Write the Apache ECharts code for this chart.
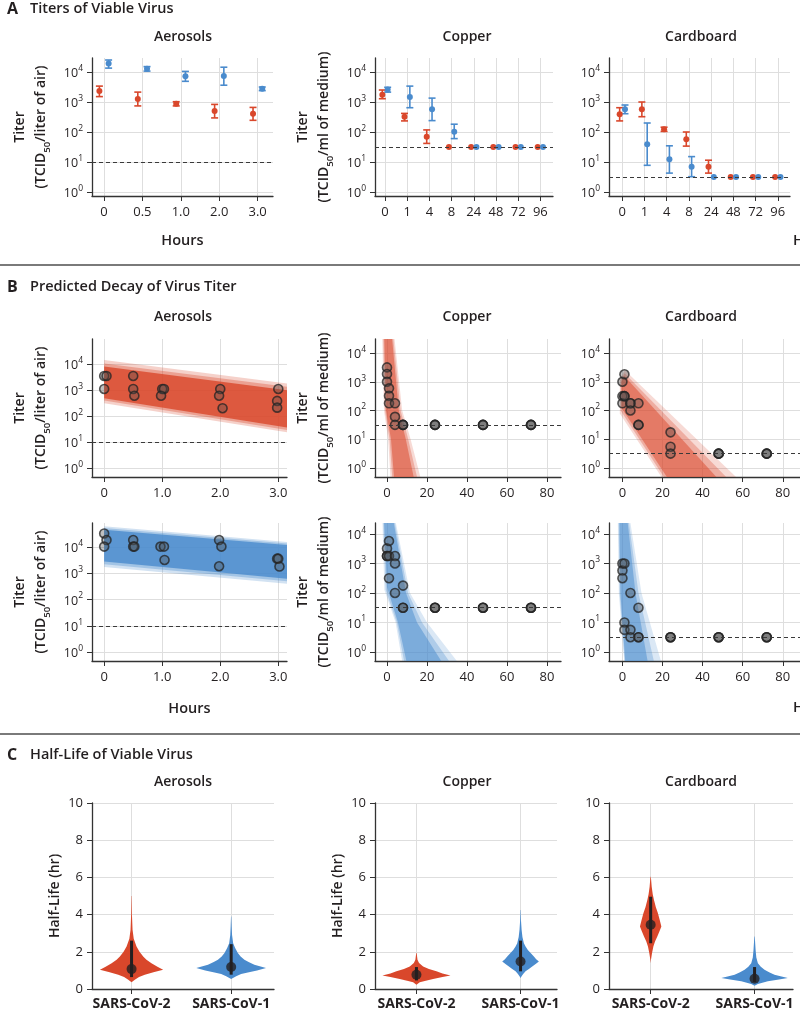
<!DOCTYPE html>
<html>
<head>
<meta charset="utf-8">
<title>Viable virus titers and half-life</title>
<script src="https://cdn.jsdelivr.net/npm/echarts@6.0.0/dist/echarts.min.js"></script>
<style>
html,body{margin:0;padding:0;background:#fff;}
#chart{width:800px;height:1018px;}
</style>
</head>
<body>
<div id="chart"></div>
<script>
// ======================= DATA (log10 titers) =======================
// Panel A — categories and [mean, lower, upper] (log10 TCID50); null = no bar (at detection limit)
const hoursAerosol = ['0', '0.5', '1.0', '2.0', '3.0'];
const hoursSurface = ['0', '1', '4', '8', '24', '48', '72', '96'];
const logTicks = [0, 1, 2, 3, 4];
const lodAerosol = 1.0;
const lodCopper = 1.5;
const lodCardboard = 0.5;

const aAeroCov2 = [[3.37, 3.18, 3.53], [3.10, 2.87, 3.33], [2.94, 2.87, 3.01], [2.70, 2.47, 2.92], [2.61, 2.39, 2.82]];
const aAeroCov1 = [[4.28, 4.13, 4.40], [4.11, 4.03, 4.18], [3.86, 3.69, 4.02], [3.87, 3.56, 4.16], [3.44, 3.38, 3.50]];
const aCopperCov2 = [[3.24, 3.11, 3.40], [2.51, 2.37, 2.62], [1.84, 1.62, 2.07], [1.5, null, null], [1.5, null, null], [1.5, null, null], [1.5, null, null], [1.5, null, null]];
const aCopperCov1 = [[3.42, 3.33, 3.49], [3.17, 2.81, 3.53], [2.76, 2.38, 3.13], [2.01, 1.78, 2.26], [1.5, null, null], [1.5, null, null], [1.5, null, null], [1.5, null, null]];
const aCardCov2 = [[2.59, 2.37, 2.81], [2.76, 2.51, 3.00], [2.09, 2.02, 2.16], [1.76, 1.53, 2.00], [0.84, 0.63, 1.06], [0.5, null, null], [0.5, null, null], [0.5, null, null]];
const aCardCov1 = [[2.76, 2.61, 2.90], [1.59, 0.89, 2.30], [1.09, 0.63, 1.54], [0.84, 0.51, 1.18], [0.5, null, null], [0.5, null, null], [0.5, null, null], [0.5, null, null]];

// Panel B — observed replicates [hours, log10 titer]
const bAeroTicks = [0, 1, 2, 3];
const bAeroTickLabels = ['0', '1.0', '2.0', '3.0'];
const bSurfaceTicks = [0, 20, 40, 60, 80];

const bAeroCov2 = [[0, 3.54], [0.04, 3.54], [0, 3.04], [0.5, 3.54], [0.5, 3.04], [0.52, 2.78], [1.0, 3.04], [1.03, 3.04], [0.98, 2.78], [2.0, 3.04], [1.98, 2.78], [2.04, 2.30], [3.0, 3.04], [2.98, 2.58], [2.98, 2.32]];
const bAeroCov1 = [[0, 4.52], [0.04, 4.27], [0, 4.02], [0.5, 4.27], [0.5, 4.02], [0.52, 4.02], [0.97, 4.02], [1.03, 4.02], [1.04, 3.51], [1.98, 4.27], [2.02, 4.02], [1.98, 3.27], [2.98, 3.56], [3.0, 3.56], [3.02, 3.26]];
const bCopperCov2 = [[0, 3.5], [0, 3.27], [0, 3.0], [1, 2.77], [1, 2.51], [1, 2.25], [4, 2.25], [4, 1.78], [4, 1.5], [8, 1.5], [8, 1.5], [8, 1.5], [24, 1.5], [24, 1.5], [24, 1.5], [48, 1.5], [48, 1.5], [48, 1.5], [72, 1.5], [72, 1.5], [72, 1.5]];
const bCopperCov1 = [[0, 3.51], [0, 3.25], [0, 3.25], [1, 3.76], [1, 3.25], [1, 2.5], [4, 3.25], [4, 3.0], [4, 2.0], [8, 2.25], [8, 1.5], [8, 1.5], [24, 1.5], [24, 1.5], [24, 1.5], [48, 1.5], [48, 1.5], [48, 1.5], [72, 1.5], [72, 1.5], [72, 1.5]];
const bCardCov2 = [[0, 3.0], [0, 2.5], [0, 2.25], [1, 3.26], [1, 2.5], [1, 2.5], [4, 2.25], [4, 2.25], [4, 2.0], [8, 2.25], [8, 1.5], [8, 1.5], [24, 1.24], [24, 0.74], [24, 0.5], [48, 0.5], [48, 0.5], [48, 0.5], [72, 0.5], [72, 0.5], [72, 0.5]];
const bCardCov1 = [[0, 3.0], [0, 2.76], [0, 2.5], [1, 3.0], [1, 1.0], [1, 0.75], [4, 2.0], [4, 0.75], [4, 0.5], [8, 1.5], [8, 0.5], [8, 0.5], [24, 0.5], [24, 0.5], [24, 0.5], [48, 0.5], [48, 0.5], [48, 0.5], [72, 0.5], [72, 0.5], [72, 0.5]];

// Panel B — envelopes of the predicted decay lines, outer -> core, vertices [hours, log10 titer]
const fanAeroCov2 = [
  [[0, 4.15], [3.15, 3.25], [3.15, 1.37], [0, 2.49]],
  [[0, 4.02], [3.15, 3.12], [3.15, 1.46], [0, 2.60]],
  [[0, 3.90], [3.15, 2.99], [3.15, 1.56], [0, 2.68]]
];
const fanAeroCov1 = [
  [[0, 4.80], [3.15, 4.20], [3.15, 2.60], [0, 3.24]],
  [[0, 4.73], [3.15, 4.14], [3.15, 2.70], [0, 3.35]],
  [[0, 4.66], [3.15, 4.08], [3.15, 2.79], [0, 3.45]]
];
const fanCopperCov2 = [
  [[-2.4, 4.6], [3.6, 4.6], [7.6, 2.0], [11.8, 1.0], [17.0, -0.4], [1.8, -0.4], [0.6, 1.0], [-1.5, 2.0]],
  [[-1.9, 4.6], [3.0, 4.6], [6.8, 2.0], [10.6, 1.0], [15.3, -0.4], [2.7, -0.4], [1.3, 1.0], [-1.0, 2.0]],
  [[-1.4, 4.6], [2.4, 4.6], [5.9, 2.0], [9.4, 1.0], [13.6, -0.4], [3.6, -0.4], [2.0, 1.0], [-0.5, 2.0]]
];
const fanCopperCov1 = [
  [[-2.3, 4.45], [4.2, 4.45], [11.5, 2.0], [20.0, 1.0], [36.0, -0.4], [7.8, -0.4], [4.3, 1.0], [-1.3, 2.1]],
  [[-1.9, 4.45], [3.7, 4.45], [10.5, 2.0], [17.5, 1.0], [32.0, -0.4], [8.8, -0.4], [4.9, 1.0], [-0.6, 2.1]],
  [[-1.5, 4.45], [3.2, 4.45], [9.5, 2.0], [15.0, 1.0], [28.0, -0.4], [10.0, -0.4], [5.5, 1.0], [0.0, 2.2]]
];
const fanCardCov2 = [
  [[-1.3, 3.1], [1.2, 3.40], [58.0, -0.4], [20.3, -0.4], [-1.3, 1.9]],
  [[-0.9, 3.05], [1.1, 3.30], [53.0, -0.4], [21.5, -0.4], [-0.9, 2.0]],
  [[-0.5, 3.0], [1.0, 3.20], [48.0, -0.4], [23.0, -0.4], [-0.5, 2.1]]
];
const fanCardCov1 = [
  [[-2.3, 4.45], [3.8, 4.45], [9.5, 2.0], [19.6, -0.4], [1.0, -0.4], [-1.8, 2.0]],
  [[-1.9, 4.45], [3.1, 4.45], [8.0, 2.0], [16.0, -0.4], [1.2, -0.4], [-1.4, 2.0]],
  [[-1.5, 4.45], [2.5, 4.45], [6.5, 2.0], [12.8, -0.4], [1.5, -0.4], [-1.0, 2.0]]
];

// Panel C — half-life posterior shapes [half-life (h), half-width in group units], medians and intervals
const hlGroups = ['SARS-CoV-2', 'SARS-CoV-1'];
const hlTicks = [0, 1];
const vAeroCov2 = [[0.36, 0], [0.5, 0.033], [0.64, 0.075], [0.77, 0.133], [0.9, 0.22], [1.04, 0.317], [1.2, 0.26], [1.39, 0.2], [1.57, 0.15], [1.75, 0.117], [2.0, 0.08], [2.29, 0.05], [2.7, 0.022], [3.18, 0.01], [4.0, 0.004], [5.0, 0.0015]];
const vAeroCov1 = [[0.54, 0], [0.68, 0.05], [0.8, 0.1], [0.89, 0.167], [1.0, 0.26], [1.13, 0.35], [1.3, 0.233], [1.45, 0.175], [1.57, 0.133], [1.75, 0.095], [1.93, 0.067], [2.2, 0.04], [2.46, 0.02], [2.9, 0.009], [3.36, 0.005], [3.9, 0.0015]];
const vCopperCov2 = [[0.23, 0], [0.36, 0.032], [0.45, 0.09], [0.54, 0.16], [0.64, 0.25], [0.73, 0.327], [0.84, 0.25], [0.95, 0.192], [1.08, 0.12], [1.21, 0.064], [1.4, 0.025], [1.57, 0.01], [1.93, 0.002]];
const vCopperCov1 = [[0.59, 0], [0.68, 0.01], [0.8, 0.025], [0.95, 0.048], [1.08, 0.08], [1.21, 0.112], [1.35, 0.145], [1.48, 0.176], [1.6, 0.15], [1.75, 0.128], [1.93, 0.097], [2.1, 0.07], [2.29, 0.048], [2.46, 0.032], [2.8, 0.018], [3.18, 0.01], [3.7, 0.004], [4.25, 0.0015]];
const vCardCov2 = [[1.39, 0], [1.57, 0.003], [1.9, 0.012], [2.29, 0.026], [2.55, 0.042], [2.82, 0.064], [3.1, 0.085], [3.36, 0.103], [3.7, 0.088], [4.07, 0.07], [4.4, 0.05], [4.79, 0.032], [5.1, 0.02], [5.5, 0.01], [6.03, 0.002]];
const vCardCov1 = [[0.18, 0], [0.27, 0.032], [0.34, 0.075], [0.41, 0.128], [0.5, 0.22], [0.59, 0.32], [0.68, 0.25], [0.77, 0.192], [0.9, 0.14], [1.04, 0.096], [1.2, 0.06], [1.39, 0.032], [1.7, 0.017], [2.1, 0.01], [2.82, 0.002]];
const medAero = [1.07, 1.18];
const ciAero = [[0.64, 2.60], [0.77, 2.41]];
const medCopper = [0.77, 1.48];
const ciCopper = [[0.46, 1.18], [0.95, 2.60]];
const medCard = [3.45, 0.55];
const ciCard = [[2.46, 4.96], [0.38, 1.18]];

// ======================= STYLE =======================
const FONT = '"Open Sans", "Noto Sans", sans-serif';
const TXT = '#231f20';
const RED = '#d9472b';
const BLUE = '#4a8bcd';
const AX = '#333333';
const GRIDC = '#dedede';
const DODGE = 0.12;

function rgba(hex, a) {
  const n = parseInt(hex.slice(1), 16);
  return 'rgba(' + (n >> 16 & 255) + ',' + (n >> 8 & 255) + ',' + (n & 255) + ',' + a + ')';
}

const grids = [], xAxes = [], yAxes = [], series = [];

const supRich = {
  b: { fontFamily: FONT, fontSize: 12.5, color: TXT, lineHeight: 16, verticalAlign: 'bottom' },
  p: { fontFamily: FONT, fontSize: 8.5, color: TXT, lineHeight: 8, verticalAlign: 'top' }
};
const nameRich = {
  t: { fontFamily: FONT, fontSize: 14, fontWeight: 600, color: TXT, lineHeight: 21 },
  s: { fontFamily: FONT, fontSize: 9.5, fontWeight: 600, color: TXT, lineHeight: 14, verticalAlign: 'bottom' }
};
function supLabel(v) { return '{b|10}{p|' + Math.round(v) + '}'; }
function titerName(unit) { return '{t|Titer}\n{t|(TCID}{s|50}{t|/' + unit + ')}'; }

function axisBase(gi) {
  return {
    type: 'value', gridIndex: gi,
    axisLine: { show: true, onZero: false, lineStyle: { color: AX, width: 1.3 } },
    axisTick: { show: true, length: 5, lineStyle: { color: AX, width: 1 } },
    splitLine: { show: true, lineStyle: { color: GRIDC, width: 1 } },
    axisLabel: { color: TXT, fontFamily: FONT, fontSize: 13, margin: 9 }
  };
}
function yLog(gi, range, name) {
  const a = axisBase(gi);
  a.min = range[0]; a.max = range[1];
  a.axisTick.customValues = logTicks;
  a.axisLabel = { customValues: logTicks, formatter: supLabel, rich: supRich, margin: 9 };
  if (name) {
    a.name = name; a.nameLocation = 'middle'; a.nameRotate = 90; a.nameGap = 40;
    a.nameTextStyle = { rich: nameRich };
  }
  return a;
}
function yHalf(gi, name) {
  const a = axisBase(gi);
  a.min = 0; a.max = 10; a.interval = 2;
  if (name) {
    a.name = name; a.nameLocation = 'middle'; a.nameRotate = 90; a.nameGap = 30;
    a.nameTextStyle = { fontFamily: FONT, fontSize: 14, fontWeight: 600, color: TXT };
  }
  return a;
}
function xVal(gi, range, ticks, labels, name, gap, bold) {
  const a = axisBase(gi);
  a.min = range[0]; a.max = range[1];
  a.axisTick.customValues = ticks;
  a.axisLabel.customValues = ticks;
  a.axisLabel.margin = 10;
  if (bold) { a.axisLabel.fontWeight = 'bold'; a.axisLabel.fontSize = 14; a.axisLabel.margin = 8; }
  if (labels) {
    a.axisLabel.formatter = function (v) {
      for (let i = 0; i < ticks.length; i++) if (Math.abs(ticks[i] - v) < 1e-6) return labels[i];
      return '';
    };
  }
  if (name) {
    a.name = name; a.nameLocation = 'middle'; a.nameGap = gap;
    a.nameTextStyle = { fontFamily: FONT, fontSize: 14.5, fontWeight: 600, color: TXT };
  }
  return a;
}
function addGrid(rect, xa, ya) {
  const gi = grids.length;
  grids.push(Object.assign({ containLabel: false }, rect));
  xAxes.push(xa(gi)); yAxes.push(ya(gi));
  return gi;
}

function lodMark(lod) {
  return { silent: true, symbol: 'none', label: { show: false }, animation: false,
    lineStyle: { color: '#3a3a3a', type: [4, 3], width: 1.1 }, data: [{ yAxis: lod }] };
}

// polygon clipping to the grid rectangle (pixel space)
function clipPoly(pts, r) {
  const x0 = r.x, x1 = r.x + r.width, y0 = r.y, y1 = r.y + r.height;
  const edges = [
    [p => p[0] >= x0, (a, b) => [x0, a[1] + (x0 - a[0]) / (b[0] - a[0]) * (b[1] - a[1])]],
    [p => p[0] <= x1, (a, b) => [x1, a[1] + (x1 - a[0]) / (b[0] - a[0]) * (b[1] - a[1])]],
    [p => p[1] >= y0, (a, b) => [a[0] + (y0 - a[1]) / (b[1] - a[1]) * (b[0] - a[0]), y0]],
    [p => p[1] <= y1, (a, b) => [a[0] + (y1 - a[1]) / (b[1] - a[1]) * (b[0] - a[0]), y1]]
  ];
  let out = pts;
  for (const [inside, inter] of edges) {
    const inp = out; out = [];
    for (let i = 0; i < inp.length; i++) {
      const cur = inp[i], prev = inp[(i + inp.length - 1) % inp.length];
      if (inside(cur)) { if (!inside(prev)) out.push(inter(prev, cur)); out.push(cur); }
      else if (inside(prev)) out.push(inter(prev, cur));
    }
    if (!out.length) break;
  }
  return out;
}

function errRender(color) {
  return function (params, api) {
    const x = api.value(0);
    const a = api.coord([x, api.value(2)]), b = api.coord([x, api.value(1)]);
    const st = { stroke: color, lineWidth: 1.6 };
    return { type: 'group', silent: true, children: [
      { type: 'line', shape: { x1: a[0], y1: a[1], x2: b[0], y2: b[1] }, style: st },
      { type: 'line', shape: { x1: a[0] - 3.5, y1: a[1], x2: a[0] + 3.5, y2: a[1] }, style: st },
      { type: 'line', shape: { x1: b[0] - 3.5, y1: b[1], x2: b[0] + 3.5, y2: b[1] }, style: st }
    ] };
  };
}

function panelA(gi, cov2, cov1, lod) {
  [[cov2, -DODGE, RED], [cov1, DODGE, BLUE]].forEach(function (cfg, k) {
    const arr = cfg[0], off = cfg[1], color = cfg[2];
    const errs = [];
    arr.forEach(function (d, i) { if (d[1] != null) errs.push([i + off, d[1], d[2]]); });
    series.push({ type: 'custom', xAxisIndex: gi, yAxisIndex: gi, renderItem: errRender(color),
      data: errs, encode: { x: 0, y: [1, 2] }, z: 3, silent: true });
    const s = { type: 'scatter', xAxisIndex: gi, yAxisIndex: gi, symbol: 'circle', symbolSize: 6,
      itemStyle: { color: color, opacity: 1 }, data: arr.map((d, i) => [i + off, d[0]]), z: 4, silent: true };
    if (k === 0) s.markLine = lodMark(lod);
    series.push(s);
  });
}

function fanRender(polys, color, alphas) {
  return function (params, api) {
    const poly = polys[params.dataIndex];
    const pts = clipPoly(poly.map(p => api.coord(p)), params.coordSys);
    if (pts.length < 3) return null;
    return { type: 'polygon', silent: true, shape: { points: pts },
      style: { fill: rgba(color, alphas[params.dataIndex]) } };
  };
}

function panelB(gi, fan, color, alphas, pts, lod) {
  series.push({ type: 'custom', xAxisIndex: gi, yAxisIndex: gi, renderItem: fanRender(fan, color, alphas),
    data: fan.map(p => p[0]), encode: { x: 0, y: 1 }, z: 2, silent: true });
  series.push({ type: 'scatter', xAxisIndex: gi, yAxisIndex: gi, symbol: 'circle', symbolSize: 9,
    itemStyle: { color: 'rgba(80,80,80,0.45)', borderColor: 'rgba(35,35,35,0.95)', borderWidth: 1.6 },
    data: pts, z: 4, silent: true, markLine: lodMark(lod) });
}

function violinRender(profiles, colors) {
  return function (params, api) {
    const prof = profiles[params.dataIndex];
    const c = api.value(0);
    const right = prof.map(p => api.coord([c + p[1], p[0]]));
    const left = prof.slice().reverse().map(p => api.coord([c - p[1], p[0]]));
    return { type: 'polygon', silent: true, shape: { points: right.concat(left) },
      style: { fill: colors[params.dataIndex] } };
  };
}
function ciRender(params, api) {
  const c = api.value(0);
  const a = api.coord([c, api.value(1)]), b = api.coord([c, api.value(2)]);
  return { type: 'line', silent: true, shape: { x1: a[0], y1: a[1], x2: b[0], y2: b[1] },
    style: { stroke: '#231f20', lineWidth: 3 } };
}
function panelC(gi, profs, med, ci) {
  series.push({ type: 'custom', xAxisIndex: gi, yAxisIndex: gi, renderItem: violinRender(profs, [RED, BLUE]),
    data: hlTicks.map((c, i) => [c, med[i]]), encode: { x: 0, y: 1 }, z: 2, silent: true });
  series.push({ type: 'custom', xAxisIndex: gi, yAxisIndex: gi, renderItem: ciRender,
    data: hlTicks.map((c, i) => [c, ci[i][0], ci[i][1]]), encode: { x: 0, y: [1, 2] }, z: 3, silent: true });
  series.push({ type: 'scatter', xAxisIndex: gi, yAxisIndex: gi, symbol: 'circle', symbolSize: 10,
    itemStyle: { color: '#231f20' }, data: hlTicks.map((c, i) => [c, med[i]]), z: 4, silent: true });
}

// ======================= LAYOUT =======================
const yA = [-0.133, 4.467];
const gA0 = addGrid({ left: 92, top: 58, width: 181, height: 138 },
  gi => xVal(gi, [-0.3125, 4.4], [0, 1, 2, 3, 4], hoursAerosol, 'Hours', 37),
  gi => yLog(gi, yA, titerName('liter of air')));
const gA1 = addGrid({ left: 375, top: 58, width: 178, height: 138 },
  gi => xVal(gi, [-0.45, 7.57], [0, 1, 2, 3, 4, 5, 6, 7], hoursSurface),
  gi => yLog(gi, yA, titerName('ml of medium')));
const gA2 = addGrid({ left: 609, top: 58, width: 181, height: 138 },
  gi => xVal(gi, [-0.6, 7.55], [0, 1, 2, 3, 4, 5, 6, 7], hoursSurface),
  gi => yLog(gi, yA));

const gB0 = addGrid({ left: 92, top: 339, width: 195, height: 138 },
  gi => xVal(gi, [-0.21, 3.15], bAeroTicks, bAeroTickLabels),
  gi => yLog(gi, [-0.346, 4.96], titerName('liter of air')));
const gB1 = addGrid({ left: 375, top: 339, width: 186, height: 138 },
  gi => xVal(gi, [-6, 87], bSurfaceTicks),
  gi => yLog(gi, [-0.313, 4.487], titerName('ml of medium')));
const gB2 = addGrid({ left: 609, top: 339, width: 191, height: 138 },
  gi => xVal(gi, [-6.7, 88.6], bSurfaceTicks),
  gi => yLog(gi, [-0.313, 4.487]));
const gB3 = addGrid({ left: 92, top: 523, width: 195, height: 138 },
  gi => xVal(gi, [-0.21, 3.15], bAeroTicks, bAeroTickLabels, 'Hours', 40),
  gi => yLog(gi, [-0.344, 4.92], titerName('liter of air')));
const gB4 = addGrid({ left: 375, top: 523, width: 186, height: 138 },
  gi => xVal(gi, [-6, 87], bSurfaceTicks),
  gi => yLog(gi, [-0.305, 4.37], titerName('ml of medium')));
const gB5 = addGrid({ left: 609, top: 523, width: 191, height: 138 },
  gi => xVal(gi, [-6.7, 88.6], bSurfaceTicks),
  gi => yLog(gi, [-0.305, 4.37]));

const gC0 = addGrid({ left: 92, top: 803, width: 182, height: 186 },
  gi => xVal(gi, [-0.397, 1.43], hlTicks, hlGroups, null, 0, true),
  gi => yHalf(gi, 'Half-Life (hr)'));
const gC1 = addGrid({ left: 375, top: 803, width: 182, height: 186 },
  gi => xVal(gi, [-0.398, 1.35], hlTicks, hlGroups, null, 0, true),
  gi => yHalf(gi, 'Half-Life (hr)'));
const gC2 = addGrid({ left: 609, top: 803, width: 184, height: 186 },
  gi => xVal(gi, [-0.401, 1.37], hlTicks, hlGroups, null, 0, true),
  gi => yHalf(gi));

// ======================= SERIES =======================
panelA(gA0, aAeroCov2, aAeroCov1, lodAerosol);
panelA(gA1, aCopperCov2, aCopperCov1, lodCopper);
panelA(gA2, aCardCov2, aCardCov1, lodCardboard);

const aeroAlpha = [0.25, 0.35, 0.8];
const surfAlpha = [0.2, 0.3, 0.5];
panelB(gB0, fanAeroCov2, RED, aeroAlpha, bAeroCov2, lodAerosol);
panelB(gB1, fanCopperCov2, RED, surfAlpha, bCopperCov2, lodCopper);
panelB(gB2, fanCardCov2, RED, surfAlpha, bCardCov2, lodCardboard);
panelB(gB3, fanAeroCov1, BLUE, aeroAlpha, bAeroCov1, lodAerosol);
panelB(gB4, fanCopperCov1, BLUE, surfAlpha, bCopperCov1, lodCopper);
panelB(gB5, fanCardCov1, BLUE, surfAlpha, bCardCov1, lodCardboard);

panelC(gC0, [vAeroCov2, vAeroCov1], medAero, ciAero);
panelC(gC1, [vCopperCov2, vCopperCov1], medCopper, ciCopper);
panelC(gC2, [vCardCov2, vCardCov1], medCard, ciCard);

// ======================= TEXT / DECOR =======================
function txt(x, y, text, font, align) {
  return { type: 'text', x: x, y: y, silent: true,
    style: { text: text, font: font + ' ' + FONT, fill: TXT,
      align: align || 'left', verticalAlign: 'middle', textAlign: align || 'left', textVerticalAlign: 'middle' } };
}
const graphic = [
  txt(7, 9, 'A', 'bold 16px'), txt(30, 9, 'Titers of Viable Virus', '600 14.5px'),
  txt(7, 287, 'B', 'bold 16px'), txt(30, 287, 'Predicted Decay of Virus Titer', '600 14.5px'),
  txt(7, 755, 'C', 'bold 16px'), txt(30, 755, 'Half-Life of Viable Virus', '600 14.5px'),
  txt(183, 37, 'Aerosols', '600 14px', 'center'), txt(467, 37, 'Copper', '600 14px', 'center'), txt(701, 37, 'Cardboard', '600 14px', 'center'),
  txt(183, 317, 'Aerosols', '600 14px', 'center'), txt(467, 317, 'Copper', '600 14px', 'center'), txt(701, 317, 'Cardboard', '600 14px', 'center'),
  txt(183, 782, 'Aerosols', '600 14px', 'center'), txt(467, 782, 'Copper', '600 14px', 'center'), txt(701, 782, 'Cardboard', '600 14px', 'center'),
  txt(793, 241, 'Hours', '600 14.5px'), txt(793, 708, 'Hours', '600 14.5px'),
  { type: 'rect', silent: true, shape: { x: 0, y: 264, width: 800, height: 2 }, style: { fill: '#7a7a7a' } },
  { type: 'rect', silent: true, shape: { x: 0, y: 733, width: 800, height: 2 }, style: { fill: '#7a7a7a' } }
];

const chart = echarts.init(document.getElementById('chart'), null, { renderer: 'canvas' });
chart.setOption({
  backgroundColor: '#ffffff',
  animation: false,
  textStyle: { fontFamily: FONT },
  grid: grids,
  xAxis: xAxes,
  yAxis: yAxes,
  series: series,
  graphic: graphic
});
</script>
</body>
</html>
